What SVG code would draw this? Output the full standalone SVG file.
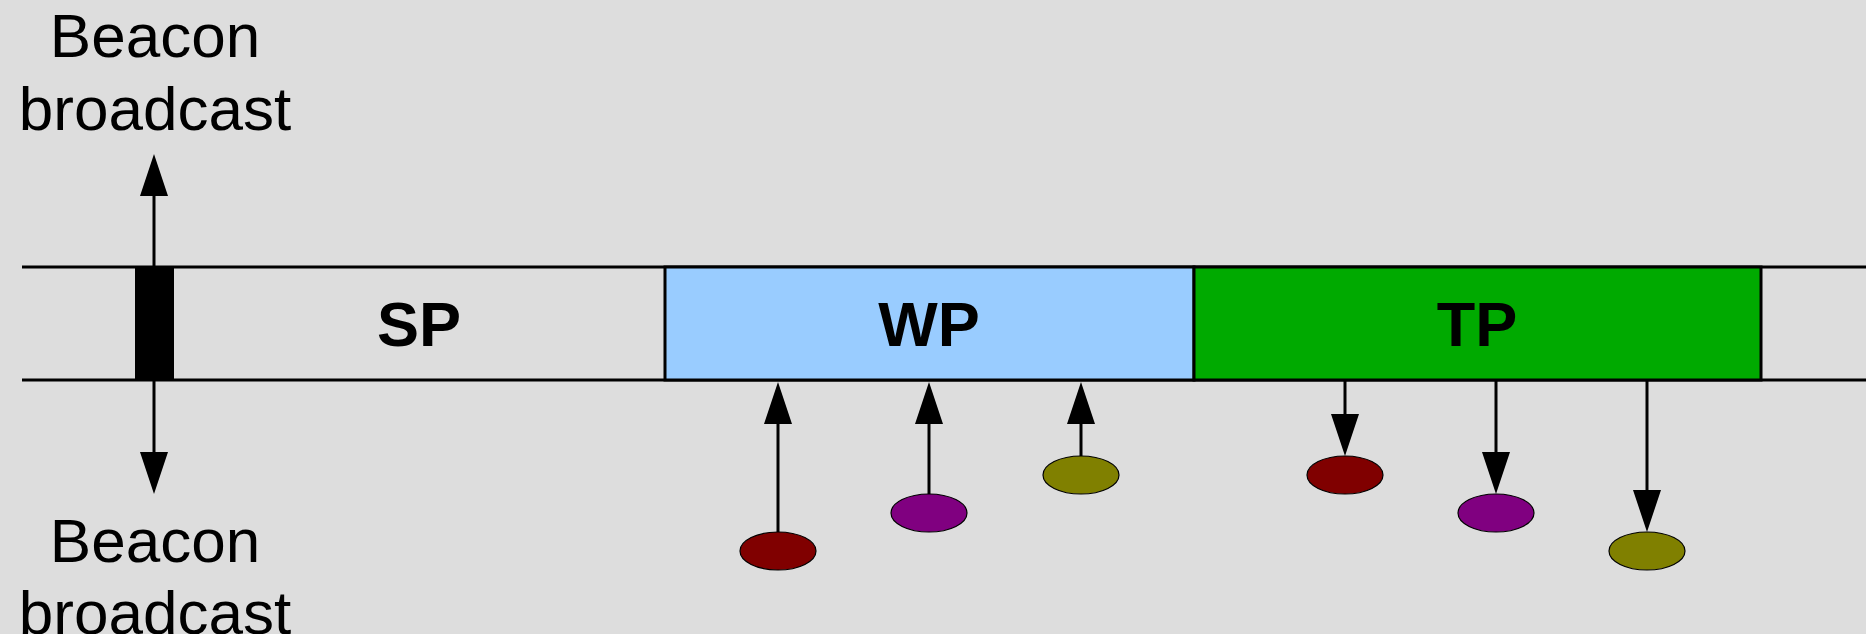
<svg xmlns="http://www.w3.org/2000/svg" width="1866" height="634" viewBox="0 0 1866 634">
<style>
.bg{fill:#dddddd}
.rail{stroke:#000;stroke-width:3;fill:none}
.box{stroke:#000;stroke-width:3}
.lbl{font-family:"Liberation Sans",Arial,sans-serif;font-weight:bold;font-size:63px;text-anchor:middle;fill:#000}
.cap{font-family:"Liberation Sans",Arial,sans-serif;font-size:62px;text-anchor:middle;fill:#000}
.conn{stroke:#000;stroke-width:3;fill:none;marker-end:url(#ah)}
.dot{stroke:#000;stroke-width:1.2}
</style>
<defs>
<marker id="ah" markerUnits="userSpaceOnUse" markerWidth="42" markerHeight="28" refX="0" refY="14" orient="auto" overflow="visible">
<path d="M0,0 L42,14 L0,28 z" fill="#000"/>
</marker>
</defs>
<rect class="bg" x="0" y="0" width="1866" height="634"/>
<g id="rails">
<line class="rail" x1="22" y1="267" x2="1866" y2="267"/>
<line class="rail" x1="22" y1="380" x2="1866" y2="380"/>
</g>
<g id="beacon">
<rect x="135" y="267" width="39" height="113" fill="#000"/>
</g>
<g id="sp">
<text class="lbl" x="419" y="346">SP</text>
</g>
<g id="wp">
<rect class="box" x="665" y="267" width="529" height="113" fill="#99ccff"/>
<text class="lbl" x="929" y="346">WP</text>
</g>
<g id="tp">
<rect class="box" x="1194" y="267" width="567" height="113" fill="#00aa00"/>
<text class="lbl" x="1477" y="346">TP</text>
</g>
<g id="label-top">
<text class="cap" x="155" y="57">Beacon</text>
<text class="cap" x="155" y="130">broadcast</text>
</g>
<g id="label-bottom">
<text class="cap" x="155" y="562">Beacon</text>
<text class="cap" x="155" y="634">broadcast</text>
</g>
<g id="wp-dev1"><ellipse class="dot" cx="778" cy="551" rx="38" ry="19" fill="#800000"/></g>
<g id="wp-dev2"><ellipse class="dot" cx="929" cy="513" rx="38" ry="19" fill="#800080"/></g>
<g id="wp-dev3"><ellipse class="dot" cx="1081" cy="475" rx="38" ry="19" fill="#808000"/></g>
<g id="tp-dev1"><ellipse class="dot" cx="1345" cy="475" rx="38" ry="19" fill="#800000"/></g>
<g id="tp-dev2"><ellipse class="dot" cx="1496" cy="513" rx="38" ry="19" fill="#800080"/></g>
<g id="tp-dev3"><ellipse class="dot" cx="1647" cy="551" rx="38" ry="19" fill="#808000"/></g>
<g id="connectors">
<line class="conn" x1="154" y1="267" x2="154" y2="196"/>
<line class="conn" x1="154" y1="380" x2="154" y2="452"/>
<line class="conn" x1="778" y1="532" x2="778" y2="424"/>
<line class="conn" x1="929" y1="494" x2="929" y2="424"/>
<line class="conn" x1="1081" y1="456" x2="1081" y2="424"/>
<line class="conn" x1="1345" y1="380" x2="1345" y2="414"/>
<line class="conn" x1="1496" y1="380" x2="1496" y2="452"/>
<line class="conn" x1="1647" y1="380" x2="1647" y2="490"/>
</g>
</svg>
